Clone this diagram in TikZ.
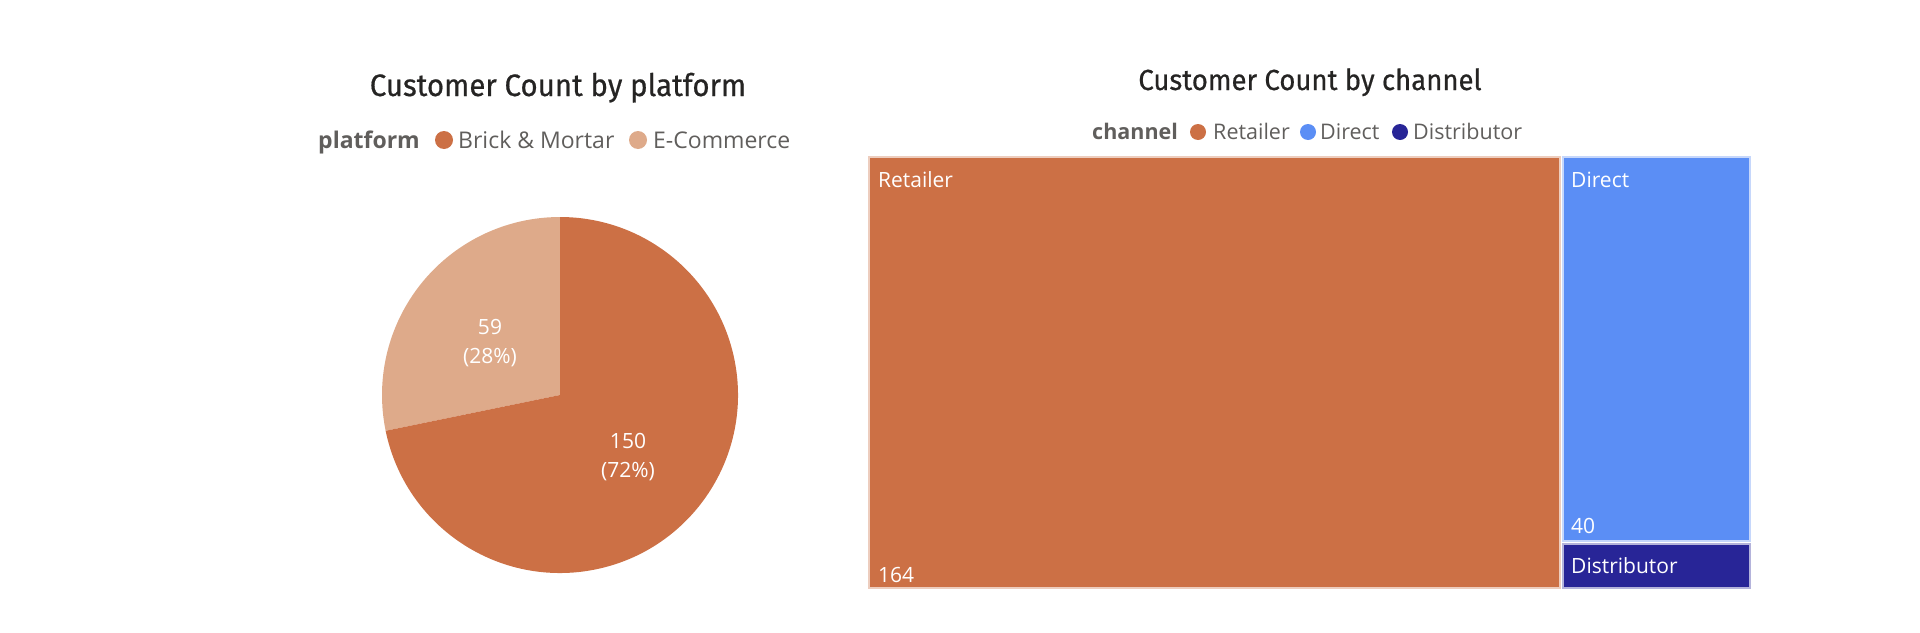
\documentclass[tikz,border=0pt]{standalone}
\usepackage{fontspec}
\setmainfont{Open Sans}
\newfontfamily\titlefont[FakeStretch=0.95,FakeBold=0.6]{Fira Sans}
\newfontfamily\labelfont{Open Sans}
\usetikzlibrary{positioning}
\definecolor{brickcol}{RGB}{204,112,69}
\definecolor{ecomcol}{RGB}{222,170,138}
\definecolor{directcol}{RGB}{91,142,245}
\definecolor{distcol}{RGB}{40,37,151}
\definecolor{titlecol}{RGB}{37,36,35}
\definecolor{legcol}{RGB}{96,94,92}

\begin{document}
\begin{tikzpicture}[x=1pt,y=-1pt,
    charttitle/.style={font=\titlefont\fontsize{31}{36}\selectfont, text=titlecol, inner sep=0pt, anchor=base},
    legtitle/.style={font=\labelfont\bfseries\fontsize{23}{27}\selectfont, text=legcol, inner sep=0pt, anchor=base west},
    legtext/.style={font=\labelfont\fontsize{23}{27}\selectfont, text=legcol, inner sep=0pt, anchor=base west},
    legdot/.style={circle, inner sep=0pt, minimum size=18pt},
    datalabel/.style={font=\labelfont\fontsize{21}{29}\selectfont, text=white, align=center, inner sep=0pt},
    boxlabel/.style={font=\labelfont\fontsize{21}{25}\selectfont, text=white, inner sep=0pt, anchor=base west},
    tile/.style={line width=1.5pt}]
    \useasboundingbox (0,0) rectangle (1920,632);

    % Pie chart: customers by platform
    \node[charttitle] (ptitle) at (558,96) {Customer Count by platform};
    \node[legtitle] (plegend) at (318,148) {platform};
    \node[legdot, fill=brickcol] (pdotA) at (444,140) {};
    \node[legtext] (plabA) at (458,148) {Brick \& Mortar};
    \node[legdot, fill=ecomcol] (pdotB) at (638,140) {};
    \node[legtext] (plabB) at (653,148) {E-Commerce};

    \coordinate (pc) at (560,395);
    \fill[ecomcol] (pc) -- ++(-90:178) arc[start angle=-90, end angle=-191.6, radius=178] -- cycle;
    \fill[brickcol] (pc) -- ++(-191.6:178) arc[start angle=-191.6, end angle=-450, radius=178] -- cycle;
    \node[datalabel] (ecomval) at (490,343) {59\\(28\%)};
    \node[datalabel] (brickval) at (628,457) {150\\(72\%)};

    % Treemap: customers by channel
    \node[charttitle, font=\titlefont\fontsize{29}{34}\selectfont] (ctitle) at (1310,90) {Customer Count by channel};
    \node[legtitle, font=\labelfont\bfseries\fontsize{21.5}{26}\selectfont] (clegend) at (1092,139) {channel};
    \node[legdot, minimum size=16pt, fill=brickcol] (cdotA) at (1198,132) {};
    \node[legtext, font=\labelfont\fontsize{21.5}{26}\selectfont] (clabA) at (1213,139) {Retailer};
    \node[legdot, minimum size=16pt, fill=directcol] (cdotB) at (1308,132) {};
    \node[legtext, font=\labelfont\fontsize{21.5}{26}\selectfont] (clabB) at (1320,139) {Direct};
    \node[legdot, minimum size=16pt, fill=distcol] (cdotC) at (1400,132) {};
    \node[legtext, font=\labelfont\fontsize{21.5}{26}\selectfont] (clabC) at (1413,139) {Distributor};

    \filldraw[tile, fill=brickcol, draw=brickcol!35!white] (869,157) rectangle (1560,588);
    \filldraw[tile, fill=directcol, draw=directcol!35!white] (1563,157) rectangle (1750,541);
    \filldraw[tile, fill=distcol, draw=distcol!35!white] (1563,544) rectangle (1750,588);
    \node[boxlabel] (retname) at (878,187) {Retailer};
    \node[boxlabel] (retval) at (878,582) {164};
    \node[boxlabel] (dirname) at (1571,187) {Direct};
    \node[boxlabel] (dirval) at (1571,533) {40};
    \node[boxlabel] (distname) at (1571,573) {Distributor};
\end{tikzpicture}
\end{document}
